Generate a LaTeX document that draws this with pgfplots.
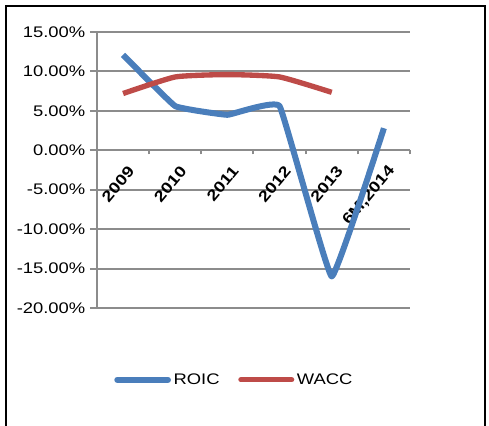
\documentclass[border=0pt]{standalone}
\usepackage{fontspec}
\setmainfont{Liberation Sans}[FakeStretch=1.2]
\usepackage{pgfplots}
\pgfplotsset{compat=1.18}
\definecolor{roic}{HTML}{4A7EBB}
\definecolor{wacc}{HTML}{BE4B48}
\definecolor{gridc}{HTML}{8C8C8C}
\begin{document}
\begin{tikzpicture}[x=0.75pt,y=0.75pt]
\useasboundingbox (0,0) rectangle (489,425);
\draw[black,line width=1.6pt] (6,-5) -- (6,419) -- (485,419) -- (485,-5);
\begin{axis}[
  at={(72.75pt,87.75pt)}, anchor=south west,
  scale only axis, width=234.75pt, height=207pt,
  xmin=-0.5, xmax=5.5, ymin=-20, ymax=15,
  axis y line=left, axis x line=middle,
  axis line style={gridc, line width=1.5pt, -},
  ytick={-20,-15,...,15},
  ymajorgrids, grid style={gridc, line width=1.5pt},
  xtick={0,...,5},
  xticklabels={2009,2010,2011,2012,2013,{6M,2014}},
  minor xtick={-0.5,0.5,...,5.5},
  major x tick style={draw=none},
  minor x tick style={gridc, line width=1.5pt},
  minor tick length=3pt,
  xtick align=outside,
  ytick align=outside,
  major tick length=5.25pt,
  ytick style={gridc, line width=1.5pt},
  tick label style={font=\fontsize{11.5}{13}\selectfont},
  xticklabel style={font=\fontsize{11.5}{13}\selectfont\bfseries, rotate=50, anchor=east, yshift=-10pt, xshift=1pt},
  /pgf/number format/assume math mode=true,
  yticklabel={\pgfmathprintnumber[fixed,fixed zerofill,precision=2]{\tick}\%},
  legend style={draw=none, fill=none, at={(0.44,-0.26)}, anchor=center,
    legend columns=2, font=\fontsize{11.5}{13}\selectfont,
    /tikz/every even column/.append style={column sep=12pt}},
  legend cell align=left,
  legend image code/.code={\draw[#1, line cap=round] (0pt,0pt) -- (38pt,0pt);},
  clip=false,
]
\addplot[roic, line width=4.5pt, smooth, tension=0.15, line join=round] coordinates {
  (0,12.1) (1,5.6) (2,4.5) (3,5.6) (4,-16.0) (5,2.8)
};
\addlegendentry{ROIC}
\addplot[wacc, line width=4pt, smooth, tension=0.3] coordinates {
  (0,7.2) (1,9.3) (2,9.6) (3,9.3) (4,7.35)
};
\addlegendentry{WACC}
\end{axis}
\end{tikzpicture}
\end{document}
